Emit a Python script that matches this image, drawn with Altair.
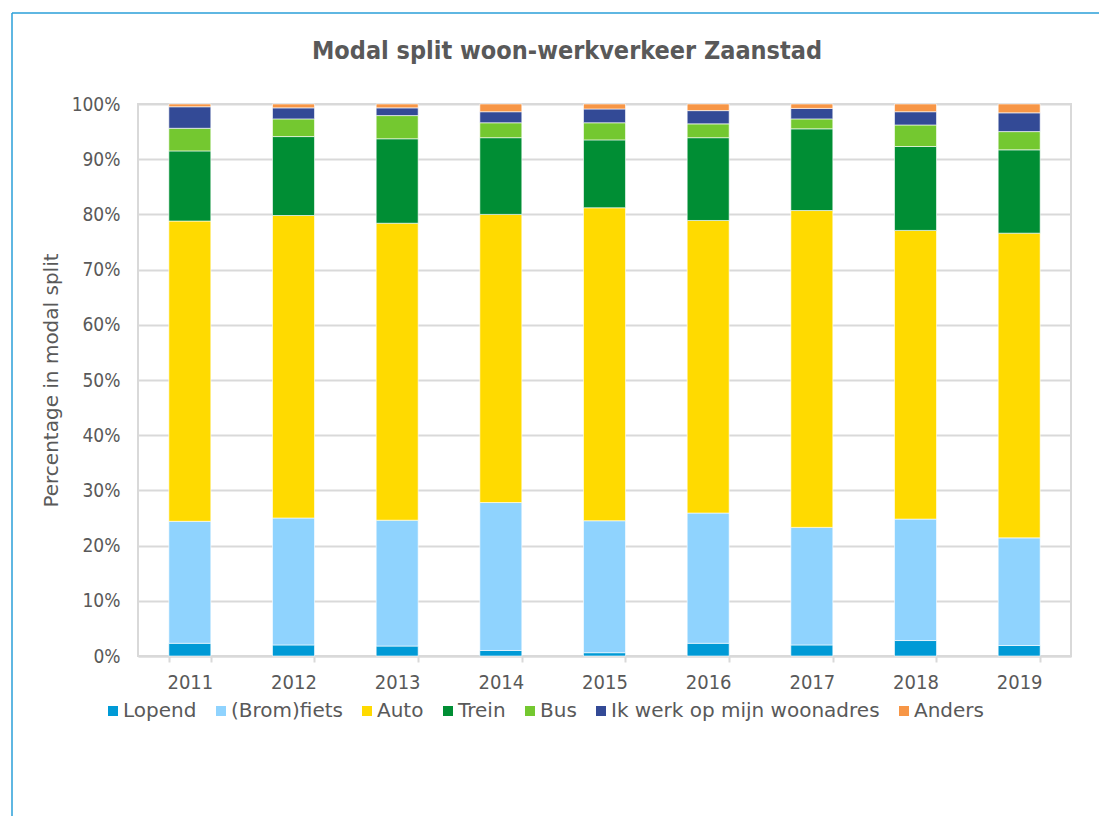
import altair as alt
import pandas as pd

years = ["2011", "2012", "2013", "2014", "2015", "2016", "2017", "2018", "2019"]
series = ["Lopend", "(Brom)fiets", "Auto", "Trein", "Bus", "Ik werk op mijn woonadres", "Anders"]
colors = ["#009ad6", "#8fd3fe", "#ffda00", "#008e34", "#74c830", "#334a96", "#f79646"]

lopend = [2.3, 2.0, 1.8, 1.0, 0.6, 2.3, 2.0, 2.8, 1.9]
fiets = [22.1, 23.0, 22.8, 26.8, 23.9, 23.6, 21.3, 22.0, 19.5]
auto = [54.4, 54.8, 53.8, 52.2, 56.7, 53.0, 57.4, 52.3, 55.2]
trein = [12.7, 14.3, 15.3, 13.9, 12.3, 15.0, 14.8, 15.2, 15.1]
bus = [4.1, 3.2, 4.2, 2.7, 3.1, 2.5, 1.8, 3.9, 3.3]
ikwerk = [3.9, 2.0, 1.4, 2.0, 2.5, 2.4, 1.9, 2.4, 3.4]
anders = [0.5, 0.7, 0.7, 1.4, 0.9, 1.2, 0.8, 1.4, 1.6]

y_ticks = [0, 10, 20, 30, 40, 50, 60, 70, 80, 90, 100]
chart_title = "Modal split woon-werkverkeer Zaanstad"

all_vals = [lopend, fiets, auto, trein, bus, ikwerk, anders]
rows = []
for si, (name, vals) in enumerate(zip(series, all_vals)):
    for yr, v in zip(years, vals):
        rows.append({"jaar": yr, "modus": name, "pct": v, "idx": si})
df = pd.DataFrame(rows)

FONT = "DejaVu Sans Condensed, DejaVu Sans"
WIDE = "DejaVu Sans"
GRAY = "#595959"

bars = alt.Chart(df).mark_bar(stroke="white", strokeWidth=0.6).encode(
    x=alt.X("jaar:N", sort=years,
            scale=alt.Scale(paddingInner=0.595, paddingOuter=0.2975),
            axis=alt.Axis(title=None, tickBand="extent", labelAngle=0,
                          labelFontSize=20, labelColor=GRAY, labelPadding=10,
                          tickSize=6, tickColor="#d9d9d9", tickWidth=2,
                          domainColor="#d9d9d9", domainWidth=2, grid=False)),
    y=alt.Y("pct:Q", stack="zero",
            scale=alt.Scale(domain=[0, 100], nice=False),
            axis=alt.Axis(values=y_ticks, labelExpr="datum.value + '%'",
                          title="Percentage in modal split", titleFont=WIDE,
                          titleFontSize=20, titleFontWeight="normal", titleColor=GRAY,
                          titlePadding=10,
                          labelFontSize=19, labelColor=GRAY, labelPadding=18,
                          ticks=False, domain=False,
                          grid=True, gridColor="#d9d9d9", gridWidth=2)),
    color=alt.Color("modus:N", sort=series,
                    scale=alt.Scale(domain=series, range=colors),
                    legend=alt.Legend(title=None, orient="none", legendX=-35, legendY=597,
                                      direction="horizontal", symbolType="square",
                                      symbolSize=100, symbolStrokeWidth=0,
                                      labelFont=WIDE, labelFontSize=20, labelColor=GRAY,
                                      labelLimit=400, labelOffset=0,
                                      columnPadding=14)),
    order=alt.Order("idx:Q", sort="ascending"),
)

single = pd.DataFrame({"t": [chart_title]})
title_text = alt.Chart(single).mark_text(
    font=FONT, fontSize=25, fontWeight="bold", color=GRAY,
    align="center", baseline="alphabetic").encode(
    text="t:N", x=alt.value(429), y=alt.value(-45))

top_line = alt.Chart(single).mark_rule(color="#2a9fd8", strokeWidth=1.5).encode(
    x=alt.value(-126), x2=alt.value(969), y=alt.value(-91))
left_line = alt.Chart(single).mark_rule(color="#2a9fd8", strokeWidth=1.5).encode(
    x=alt.value(-126), y=alt.value(-91), y2=alt.value(720))

chart = alt.layer(bars, title_text, top_line, left_line).properties(
    width=933,
    height=552,
    autosize=alt.AutoSizeParams(type="none"),
    padding={"left": 130, "top": 96, "right": 28, "bottom": 160},
).configure(font=FONT).configure_view(stroke="#d9d9d9", strokeWidth=2)

chart.save("out.html", embed_options={"renderer": "svg", "actions": False})
